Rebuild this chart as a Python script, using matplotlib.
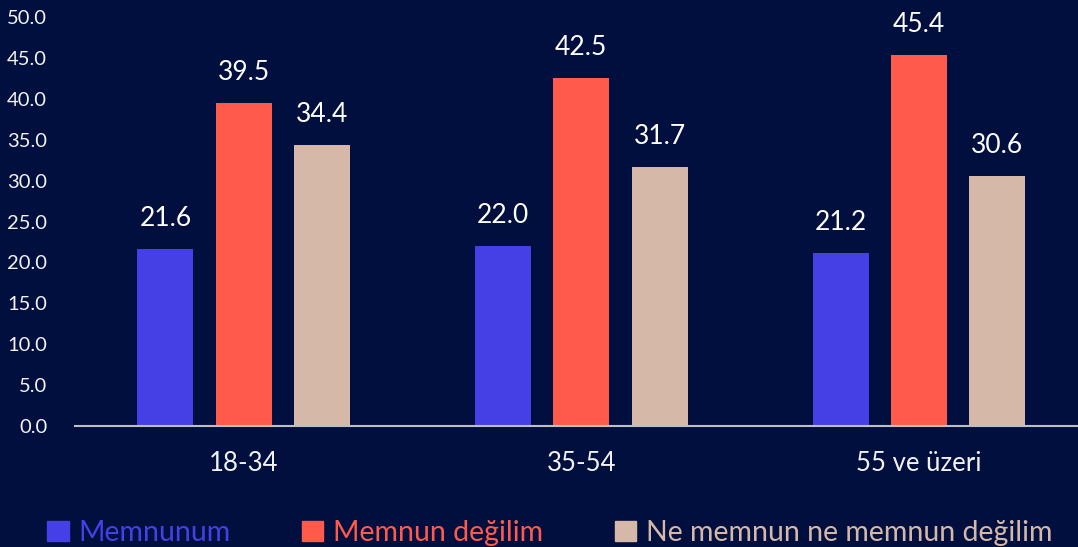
import matplotlib.pyplot as plt
import numpy as np
from matplotlib.patches import Patch

plt.rcParams['font.family'] = ['Lato', 'DejaVu Sans']

groups = ['18-34', '35-54', '55 ve üzeri']
series = ['Memnunum', 'Memnun değilim', 'Ne memnun ne memnun değilim']
memnunum = [21.6, 22.0, 21.2]
memnun_degilim = [39.5, 42.5, 45.4]
ne_ne = [34.4, 31.7, 30.6]
yticks = np.arange(0, 50.1, 5)

bg = '#000F3E'
colors = ['#4540E5', '#FF5A4B', '#D5B8A8']

fig = plt.figure(figsize=(10.78, 5.47), dpi=100, facecolor=bg)
# axes runs a bit past the right edge, like the original slide
ax = fig.add_axes([0.0696, 0.221, 0.9393, 0.748])
ax.set_facecolor(bg)

x = np.arange(len(groups))
w = 0.166
step = 0.232
for i, (vals, c) in enumerate(zip([memnunum, memnun_degilim, ne_ne], colors)):
    bars = ax.bar(x + (i - 1) * step, vals, w, color=c)
    for b, v in zip(bars, vals):
        ax.text(b.get_x() + b.get_width() / 2, v + 2.2, f'{v:.1f}',
                ha='center', va='bottom', color='white', fontsize=19)

ax.set_xlim(-0.5, 2.5)
ax.set_ylim(0, 50)
ax.set_yticks(yticks)
ax.set_yticklabels([f'{t:.1f}' for t in yticks])
ax.set_xticks(x)
ax.set_xticklabels(groups)
ax.tick_params(axis='y', colors='#F2F2F2', labelsize=14.5, length=0, pad=20)
ax.tick_params(axis='x', colors='#F2F2F2', labelsize=18.5, length=0, pad=18)
for s in ['top', 'right', 'left']:
    ax.spines[s].set_visible(False)
ax.spines['bottom'].set_color('#BFBFBF')
ax.spines['bottom'].set_linewidth(1.5)

handles = [Patch(color=c, label=s) for c, s in zip(colors, series)]
leg = fig.legend(handles=handles, loc='lower left', bbox_to_anchor=(0.02, -0.045),
                 ncol=3, frameon=False, fontsize=20.5, handlelength=0.75,
                 handleheight=0.75, handletextpad=0.35, columnspacing=2.5,
                 labelcolor=colors)

fig.savefig('out.png', dpi=100, facecolor=bg)
